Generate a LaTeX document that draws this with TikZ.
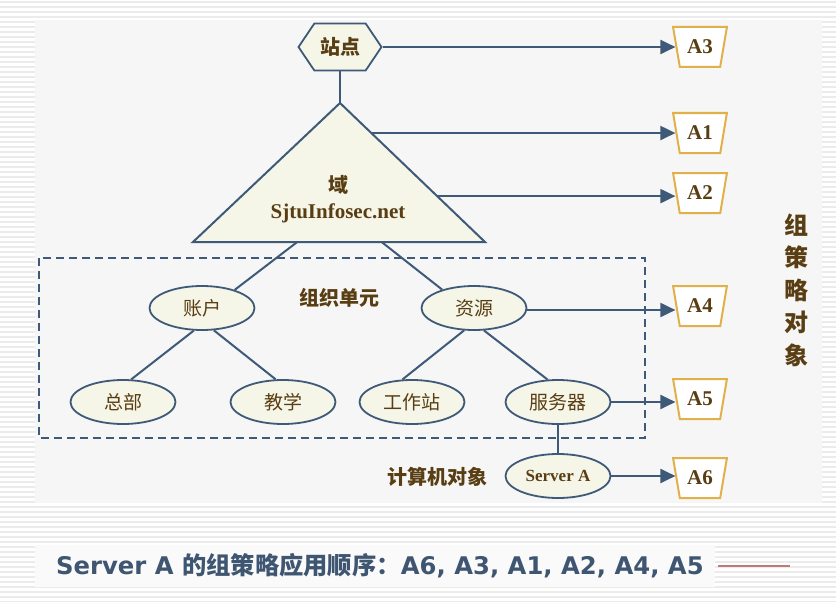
\documentclass[tikz,border=0pt]{standalone}
\usepackage{fontspec}
\setmainfont{Liberation Serif}
\newfontfamily\cjk{Noto Sans CJK SC}
\newfontfamily\dejavu{DejaVu Sans}
\usetikzlibrary{arrows.meta,shapes.geometric,shapes.symbols,calc}

\definecolor{linec}{RGB}{62,90,120}
\definecolor{cream}{RGB}{245,245,232}
\definecolor{brownt}{RGB}{88,62,18}
\definecolor{goldc}{RGB}{226,176,74}
\definecolor{titlec}{RGB}{63,86,114}
\definecolor{redc}{RGB}{192,122,122}
\definecolor{panelc}{RGB}{246,246,246}

\tikzset{
  link/.style={linec, line width=2pt},
  apply/.style={link, -{Triangle[length=15pt,width=14pt]}},
  unit/.style={ellipse, draw=linec, line width=1.8pt, fill=cream,
    minimum width=105pt, minimum height=44pt, inner sep=0pt,
    font=\cjk\fontsize{19}{19}\selectfont, text=brownt},
  gpo/.style={trapezium, trapezium stretches=true,
    trapezium left angle=73, trapezium right angle=73,
    shape border rotate=180, draw=goldc, line width=2pt, fill=white,
    minimum width=54pt, minimum height=40pt, inner sep=0pt,
    font=\bfseries\fontsize{21}{21}\selectfont, text=brownt},
  tag/.style={font=\cjk\bfseries\fontsize{20}{20}\selectfont, text=brownt}
}

\begin{document}
\begin{tikzpicture}[x=1pt,y=-1pt]
\useasboundingbox (0,0) rectangle (836,602);
\fill[white] (0,0) rectangle (836,602);
\foreach \y in {2,7,...,602}
  \draw[gray!16, line width=1.5pt] (0,\y) -- (836,\y);
\fill[panelc] (35,20) rectangle (822,503);
\fill[white!96!gray] (35,545) rectangle (715,587);

% site and domain
\node[signal, signal to=west and east, signal pointer angle=112,
  draw=linec, line width=1.8pt, fill=cream, minimum width=83pt,
  minimum height=47pt, inner sep=0pt, tag] (site) at (340,47) {站点};
\draw[link, fill=cream] (340,103) coordinate (apex)
  -- (485,242) coordinate (baseE) -- (193,242) coordinate (baseW) -- cycle;
\node[align=center, text=brownt, font=\bfseries\fontsize{21}{26}\selectfont]
  (domain) at (338,199) {{\cjk\fontsize{20}{20}\selectfont 域}\\SjtuInfosec.net};
\coordinate (dA1) at ($(apex)!0.216!(baseE)$);
\coordinate (dA2) at ($(apex)!0.67!(baseE)$);
\coordinate (dL) at ($(baseW)!0.357!(baseE)$);
\coordinate (dR) at ($(baseW)!0.646!(baseE)$);
\draw[link] (site) -- (apex);

% OU box
\draw[link, dash pattern=on 8pt off 5pt] (39,258) rectangle (645,438);
\node[tag] (oulabel) at (339,298) {组织单元};
\node[unit] (acct) at (202,308) {账户};
\node[unit] (res) at (474,308) {资源};
\node[unit] (hq) at (123,402) {总部};
\node[unit] (teach) at (283,402) {教学};
\node[unit] (ws) at (412,402) {工作站};
\node[unit] (srv) at (558,402) {服务器};
\node[unit, font=\bfseries\fontsize{17}{17}\selectfont] (srvA) at (558,476) {Server A};
\node[tag] (pclabel) at (437,477) {计算机对象};

\draw[link] (dL) -- (acct.29);
\draw[link] (dR) -- (res.150);
\draw[link] (acct.250) -- (hq.70);
\draw[link] (acct.298) -- (teach.108);
\draw[link] (res.246) -- (ws.113);
\draw[link] (res.294) -- (srv.115);
\draw[link] (srv) -- (srvA);

% group policy objects
\node[gpo] (a3) at (700,47) {A3};
\node[gpo] (a1) at (700,133) {A1};
\node[gpo] (a2) at (700,193) {A2};
\node[gpo] (a4) at (700,306) {A4};
\node[gpo] (a5) at (700,399) {A5};
\node[gpo] (a6) at (700,478) {A6};

\draw[apply] (site.east) -- (site.east -| a3.west);
\draw[apply] (dA1) -- (dA1 -| a1.west);
\draw[apply] (dA2) -- (dA2 -| a2.west);
\draw[apply] ([yshift=-2pt]res.east) -- ([yshift=-2pt]res.east -| a4.west);
\draw[apply] (srv.east) -- (srv.east -| a5.west);
\draw[apply] (srvA.east) -- (srvA.east -| a6.west);

\node[align=center, text=brownt, font=\cjk\bfseries\fontsize{24}{32.5}\selectfont]
  (gpolabel) at (796,290) {组\\策\\略\\对\\象};

% order
\node[anchor=west, inner sep=0pt, text=titlec,
  font=\dejavu\bfseries\fontsize{24.3}{24.3}\selectfont] (order) at (56,566)
  {Server A {\cjk\bfseries 的组策略应用顺序：}A6, A3, A1, A2, A4, A5};
\draw[redc, line width=2pt] ([xshift=14pt]order.east) -- ++(72,0);
\end{tikzpicture}
\end{document}
